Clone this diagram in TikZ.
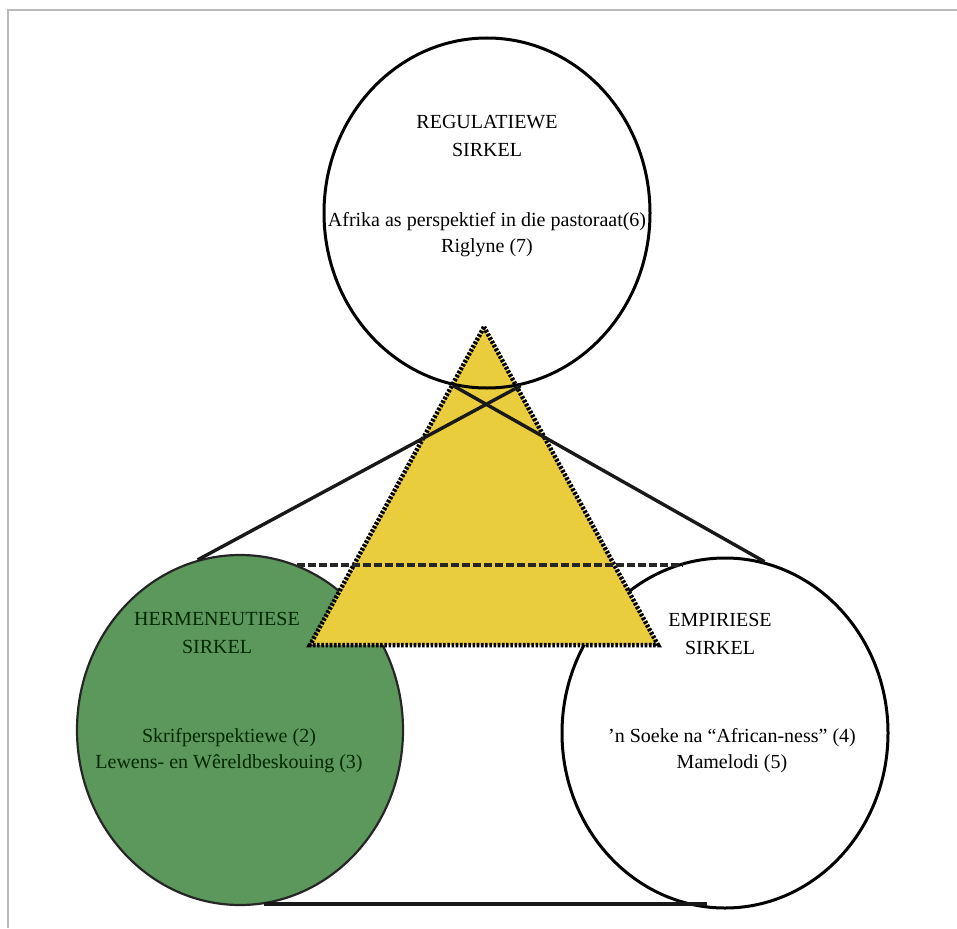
\documentclass[tikz,border=0pt]{standalone}
\usepackage{fontspec}
\setmainfont{Liberation Serif}
\usepackage{tikz}
\usetikzlibrary{shapes.geometric}
\definecolor{hermgreen}{RGB}{92,152,92}
\definecolor{triyellow}{RGB}{234,205,60}

\begin{document}
\begin{tikzpicture}[x=1pt, y=-1pt,
    sirkel/.style={ellipse, draw, line width=3pt, minimum width=326pt, minimum height=350pt, inner sep=0pt},
    titel/.style={align=center, font=\fontsize{20}{28}\selectfont},
    inhoud/.style={align=center, font=\fontsize{20}{26}\selectfont},
    link/.style={line width=3.4pt, black!90},
    brug/.style={line width=4pt, dash pattern=on 8pt off 3pt, black!85},
    driehoek/.style={fill=triyellow, draw=black, line width=4.5pt, dash pattern=on 2.6pt off 1.6pt}
  ]
  \useasboundingbox (0,0) rectangle (957,928);

  % Page frame (top and left only)
  \draw[gray!55, line width=1.5pt] (8,928) -- (8,10) -- (957,10);

  % Lower circles
  \node[sirkel, fill=hermgreen, draw=black!85, line width=2.2pt] (herm) at (240,730) {};
  \node[sirkel, fill=white] (emp) at (725,733) {};

  % Yellow triangle in the middle
  \coordinate (apex) at (484,327);
  \coordinate (baseL) at (310,645);
  \coordinate (baseR) at (658,645);
  \draw[driehoek] (apex) -- (baseL) -- (baseR) -- cycle;

  % Upper circle (outline only, over the triangle)
  \node[sirkel] (reg) at (487,213) {};

  % Texts
  \node[titel] (regtitel) at (487,136) {REGULATIEWE\\SIRKEL};
  \node[inhoud] (reginhoud) at (487,235) {Afrika as perspektief in die pastoraat(6)\\Riglyne (7)};
  \node[titel, text=black!75!green!60!black] (hermtitel) at (217,633) {HERMENEUTIESE\\SIRKEL};
  \node[inhoud, text=black!75!green!60!black] (herminhoud) at (229,751) {Skrifperspektiewe (2)\\Lewens- en Wêreldbeskouing (3)};
  \node[titel] (emptitel) at (720,634) {EMPIRIESE\\SIRKEL};
  \node[inhoud] (empinhoud) at (732,751) {'n Soeke na ``African-ness'' (4)\\Mamelodi (5)};

  % Connecting lines
  \draw[link] (herm.104) -- (reg.281);
  \draw[link] (emp.77) -- (reg.259);
  \draw[brug] (herm.71) -- (herm.71 -| emp.104);
  \draw[link, line width=4pt] (herm.-82) -- (herm.-82 -| emp.-96);
\end{tikzpicture}
\end{document}
